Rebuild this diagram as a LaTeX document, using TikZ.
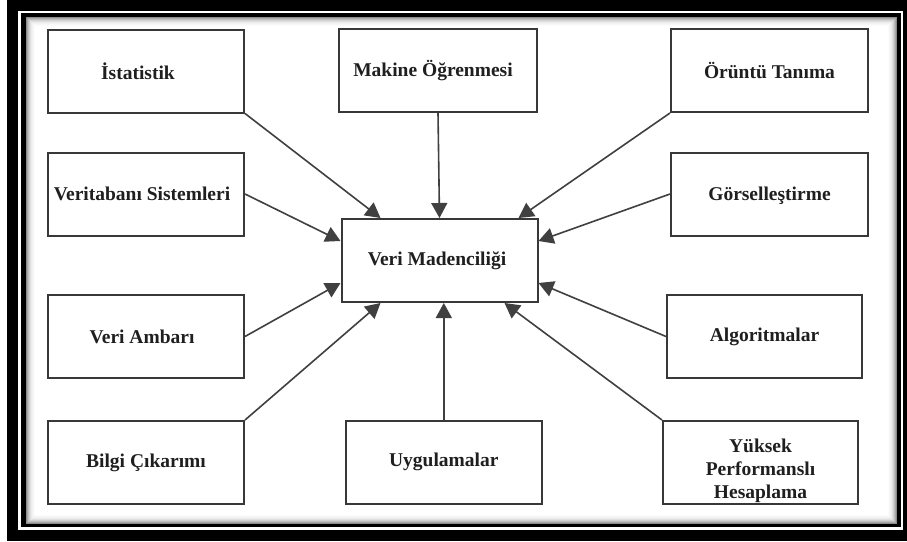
\documentclass[tikz,border=0pt]{standalone}
\usepackage{fontspec}
\setmainfont{Liberation Serif}
\usetikzlibrary{arrows.meta,positioning}

\tikzset{
  topic/.style={draw=black!78, line width=2pt, fill=white,
    minimum width=196pt, minimum height=83pt, inner sep=2pt,
    align=center, font=\fontsize{19.5}{23}\selectfont\bfseries,
    text=black!88},
  feed/.style={draw=black!75, line width=1.6pt,
    -{Triangle[length=15pt,width=16pt]}},
}

\begin{document}
\begin{tikzpicture}[x=1pt,y=-1pt]
  \useasboundingbox (0,0) rectangle (907,541);

  % double picture frame
  \fill[white] (0,0) rectangle (907,541);
  \fill[black] (7,0) rectangle (907,541);
  \fill[white] (18,10.5) rectangle (903,529.5);
  \fill[black] (21,13) rectangle (901,527);
  \fill[white] (26,17) rectangle (897,524);
  % soft inner shadow along the frame
  \foreach \i/\g in {0/45,1/34,2/25,3/18,4/12,5/8,6/5,7/3,8/1.5}
    \draw[black!\g, line width=1pt]
      (26.5+\i,17.5+\i) rectangle (896.5-\i,523.5-\i);

  % central topic
  \node[topic] (vm)  at (439.5,260.5) {Veri Madenciliği\hspace*{5pt}};

  % left column
  \node[topic] (ist) at (146,71)    {İstatistik\hspace*{16pt}};
  \node[topic] (ver) at (146,194)   {Veritabanı Sistemleri\hspace*{8pt}};
  \node[topic] (amb) at (146,336.5) {Veri Ambarı\hspace*{8pt}};
  \node[topic] (bil) at (146,462.5) {Bilgi Çıkarımı};

  % middle column
  \node[topic, minimum width=198pt] (mak) at (438,70.5)
    {Makine Öğrenmesi\hspace*{10pt}};
  \node[topic] (uyg) at (443.8,462) {Uygulamalar};

  % right column
  \node[topic, minimum width=197pt] (oru) at (769.5,70.5) {Örüntü Tanıma};
  \node[topic, minimum width=197pt] (gor) at (769.5,194)
    {\rule{0pt}{18pt}Görselleştirme};
  \node[topic, minimum width=195pt] (alg) at (764.5,336.5) {Algoritmalar};
  \node[topic, minimum width=195pt] (yuk) at (760.5,462.5)
    {\raisebox{-8pt}[\height][\depth]{%
      \begin{tabular}{@{}c@{}}Yüksek\\Performanslı\\Hesaplama\end{tabular}}};

  % connectors into the central topic
  \draw[feed] (ist.south east) -- ([xshift=40pt]vm.north west);
  \draw[feed] (mak.south)      -- (vm.north);
  \draw[feed] (oru.south west) -- ([xshift=-20pt]vm.north east);
  \draw[feed] (ver.east)       -- ([yshift=-23pt]vm.north west);
  \draw[feed] (gor.west)       -- ([yshift=-23pt]vm.north east);
  \draw[feed] (amb.east)       -- ([yshift=20pt]vm.south west);
  \draw[feed] (alg.west)       -- ([yshift=20pt]vm.south east);
  \draw[feed] (bil.north east) -- ([xshift=40pt]vm.south west);
  \draw[feed] (uyg.north)      -- ([xshift=4.3pt]vm.south);
  \draw[feed] (yuk.north west) -- ([xshift=-34pt]vm.south east);
\end{tikzpicture}
\end{document}
